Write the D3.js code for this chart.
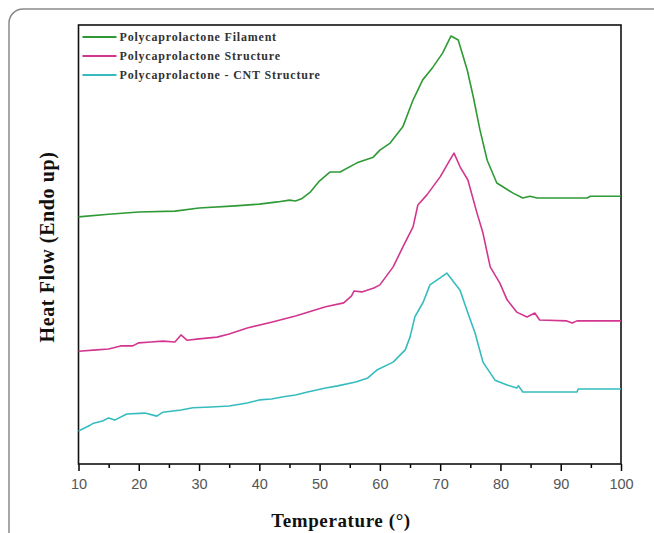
<!DOCTYPE html>
<html>
<head>
<meta charset="utf-8">
<script src="https://cdn.jsdelivr.net/npm/d3@7"></script>
<style>
  body { margin: 0; background: #fff; }
</style>
</head>
<body>
<div id="chart"></div>
<script>
// DSC curves, temperature (°C) and heat flow (arbitrary units, offset per series)
var filamentT = [10, 15, 20, 26, 30, 36, 40, 43, 45, 46, 47, 48.5, 50, 51.7, 53.4, 56.2, 58.9, 60, 61.7,
  63.8, 65.5, 67.1, 68.8, 70.4, 71.8, 73, 74.5, 75.5, 76.6, 77.8, 79.4, 82.1, 83.7, 84.9, 86.1, 94.4, 94.9, 100];
var filamentV = [56.3, 56.9, 57.4, 57.6, 58.3, 58.8, 59.2, 59.7, 60.1, 59.9, 60.4, 62.0, 64.5, 66.5, 66.5, 68.6, 69.9, 71.5, 73.1,
  76.8, 82.9, 87.5, 90.4, 93.6, 97.5, 96.6, 89.7, 83.6, 76.1, 69.2, 64.0, 61.7, 60.6, 61.0, 60.6, 60.6, 61.0, 61.0];

var structureT = [10, 13, 15, 17, 19, 20, 22, 24, 26, 27, 28, 30, 33, 35, 38, 42, 46, 51, 54, 55.3, 55.7, 57, 59, 60,
  62.2, 63.8, 65.5, 66.3, 67.8, 70, 71.6, 72.3, 73.3, 74.6, 76.1, 77.1, 78.3, 79.9, 81.1, 82.7, 84.4, 85.7, 86.5, 91, 91.9, 92.7, 100];
var structureV = [25.7, 26.0, 26.2, 26.9, 26.9, 27.6, 27.8, 28.0, 27.8, 29.4, 28.2, 28.5, 28.9, 29.6, 31.0, 32.3, 33.7, 35.8, 36.7, 38.3, 39.4, 39.2, 40.1, 40.8,
  44.9, 49.4, 54.0, 59.0, 61.3, 65.4, 69.2, 70.8, 67.7, 64.7, 57.2, 52.6, 44.9, 41.2, 37.4, 34.6, 33.5, 34.4, 32.8, 32.6, 32.1, 32.6, 32.6];

var cntT = [10, 11, 12, 12.5, 14, 15, 16, 18, 21, 23, 24, 27, 29, 32, 35, 38, 40, 42, 44, 46, 48, 51, 53, 56, 58, 59.5,
  62.2, 64.2, 65, 65.8, 67.2, 68.3, 70, 71.1, 73.3, 74.6, 75.8, 77.1, 79.1, 81.1, 82.7, 83, 83.7, 92.7, 92.9, 100];
var cntV = [7.5, 8.2, 8.9, 9.3, 9.8, 10.5, 10.0, 11.4, 11.6, 10.9, 11.8, 12.3, 12.8, 13.0, 13.2, 13.9, 14.6, 14.8, 15.3, 15.7, 16.4, 17.3, 17.8, 18.7, 19.6, 21.4,
  23.2, 26.0, 28.9, 33.5, 36.9, 40.8, 42.4, 43.5, 39.6, 34.4, 29.8, 23.2, 19.1, 18.0, 17.3, 17.8, 16.4, 16.4, 17.1, 17.1];

var seriesNames = ["Polycaprolactone Filament", "Polycaprolactone Structure", "Polycaprolactone - CNT Structure"];
var seriesColors = ["#2f9a35", "#d2368f", "#36bcbf"];
var xTicks = [10, 20, 30, 40, 50, 60, 70, 80, 90, 100];

var margin = {top: 25, right: 33, bottom: 69, left: 78.5},
    width = 654 - margin.left - margin.right,
    height = 533 - margin.top - margin.bottom;

var root = d3.select("#chart")
  .append("svg")
    .attr("width", 654)
    .attr("height", 533);

// outer rounded frame of the figure
root.append("rect")
  .attr("x", 9).attr("y", 9)
  .attr("width", 680).attr("height", 560)
  .attr("rx", 14)
  .attr("fill", "none")
  .attr("stroke", "#8a8a8a")
  .attr("stroke-width", 1.5);

var svg = root.append("g")
  .attr("transform", "translate(" + margin.left + "," + margin.top + ")");

var x = d3.scaleLinear().domain([10, 100]).range([0, width]);
var y = d3.scaleLinear().domain([0, 100]).range([height, 0]);

// x axis with minor ticks
svg.append("g")
  .attr("transform", "translate(0," + height + ")")
  .call(d3.axisBottom(x).tickValues(d3.range(15, 100, 10)).tickSize(4).tickFormat(""))
  .call(function(g) { g.select(".domain").remove(); })
  .selectAll("line").attr("stroke-width", 1.5);

var xAxis = svg.append("g")
  .attr("transform", "translate(0," + height + ")")
  .call(d3.axisBottom(x).tickValues(xTicks).tickSize(7).tickPadding(8));
xAxis.select(".domain").remove();
xAxis.selectAll("line").attr("stroke-width", 1.5);
xAxis.selectAll("text")
  .attr("font-family", "Liberation Sans, Arial, sans-serif")
  .attr("font-size", 14.5)
  .attr("fill", "#555");

// plot box
svg.append("rect")
  .attr("width", width)
  .attr("height", height)
  .attr("fill", "none")
  .attr("stroke", "#111")
  .attr("stroke-width", 1.6);

var line = d3.line()
  .x(function(d) { return x(d[0]); })
  .y(function(d) { return y(d[1]); });

var series = [
  d3.zip(filamentT, filamentV),
  d3.zip(structureT, structureV),
  d3.zip(cntT, cntV)
];

svg.selectAll(".curve")
  .data(series)
  .enter()
  .append("path")
    .attr("class", "curve")
    .attr("d", line)
    .attr("fill", "none")
    .attr("stroke", function(d, i) { return seriesColors[i]; })
    .attr("stroke-width", 1.6)
    .attr("stroke-linejoin", "round");

// legend
var legend = svg.selectAll(".legend")
  .data(seriesNames)
  .enter()
  .append("g")
    .attr("transform", function(d, i) { return "translate(4," + (12 + i * 19) + ")"; });
legend.append("line")
  .attr("x1", 0).attr("x2", 34)
  .attr("stroke", function(d, i) { return seriesColors[i]; })
  .attr("stroke-width", 1.8);
legend.append("text")
  .attr("x", 37).attr("y", 4)
  .attr("font-family", "Liberation Serif, Times New Roman, serif")
  .attr("font-weight", "bold")
  .attr("font-size", 12)
  .attr("letter-spacing", 0.8)
  .attr("fill", "#333")
  .text(function(d) { return d; });

// axis titles
root.append("text")
  .attr("x", 341)
  .attr("y", 527)
  .attr("text-anchor", "middle")
  .attr("font-family", "Liberation Serif, Times New Roman, serif")
  .attr("font-weight", "bold")
  .attr("font-size", 19)
  .attr("letter-spacing", 0.6)
  .attr("fill", "#111")
  .text("Temperature (°)");

root.append("text")
  .attr("transform", "translate(54,247) rotate(-90)")
  .attr("text-anchor", "middle")
  .attr("font-family", "Liberation Serif, Times New Roman, serif")
  .attr("font-weight", "bold")
  .attr("font-size", 20)
  .attr("letter-spacing", 0.6)
  .attr("fill", "#111")
  .text("Heat Flow (Endo up)");
</script>
</body>
</html>
